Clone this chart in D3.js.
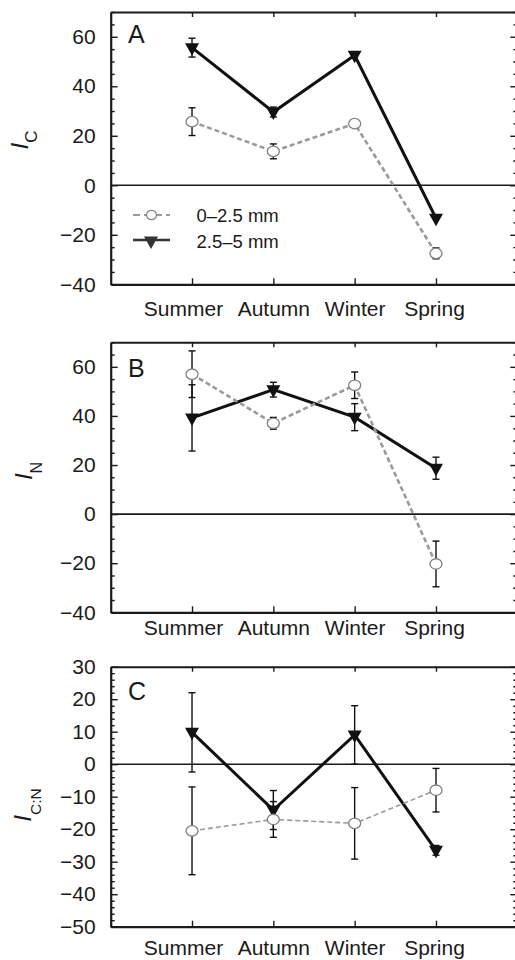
<!DOCTYPE html>
<html>
<head>
<meta charset="utf-8">
<script src="https://cdn.jsdelivr.net/npm/d3@7"></script>
<style>
  html, body { margin: 0; padding: 0; background: #fff; }
  svg { display: block; font-family: "Liberation Sans", Arial, Helvetica, sans-serif; }
</style>
</head>
<body>
<svg id="chart" width="515" height="960"></svg>
<script>
// Seasons on the x axis
const seasons = ["Summer", "Autumn", "Winter", "Spring"];

// Series names (soil aggregate size classes)
const seriesNames = ["0–2.5 mm", "2.5–5 mm"];

// Panel A: I_C
const icFine = [25.7, 13.7, 24.9, -27.5];
const icFineErr = [5.6, 3.0, 0, 2.2];
const icCoarse = [55.6, 29.6, 52.5, -13.3];
const icCoarseErr = [3.8, 2.0, 0, 0];

// Panel B: I_N
const inFine = [57.0, 37.0, 52.5, -20.3];
const inFineErr = [9.5, 2.4, 5.4, 9.3];
const inCoarse = [39.2, 50.7, 39.5, 18.7];
const inCoarseErr = [13.5, 3.0, 5.5, 4.5];

// Panel C: I_C:N
const icnFine = [-20.5, -17.0, -18.2, -8.0];
const icnFineErr = [13.5, 5.5, 11.0, 6.7];
const icnCoarse = [9.8, -14.1, 9.0, -26.5];
const icnCoarseErr = [12.2, 6.0, 9.0, 1.5];

// Axis ticks
const ticksAB = [-40, -20, 0, 20, 40, 60];
const ticksC = [-50, -40, -30, -20, -10, 0, 10, 20, 30];

const svg = d3.select("#chart");
const minus = v => (v < 0 ? "\u2212" + Math.abs(v) : String(v));

const xLeft = 110.7, xRight = 517.3;
const x = d3.scaleLinear().domain([0, 5]).range([xLeft, xRight]);

const panels = [
  { letter: "A", sub: "C", top: 12, bottom: 284.3, domain: [-40, 70], ticks: ticksAB, minorStep: 5,
    fine: icFine, fineErr: icFineErr, coarse: icCoarse, coarseErr: icCoarseErr,
    labelX: 28, labelY: 140, subShift: 9, subSize: 17, xPad: 17, letterY: 43.3,
    fineWidth: 2.6, legend: true },
  { letter: "B", sub: "N", top: 342.3, bottom: 612.3, domain: [-40, 70], ticks: ticksAB, minorStep: 5,
    fine: inFine, fineErr: inFineErr, coarse: inCoarse, coarseErr: inCoarseErr,
    labelX: 31.5, labelY: 471, subShift: 10, subSize: 16, xPad: 8, letterY: 376.7,
    fineWidth: 2.6, legend: false },
  { letter: "C", sub: "C:N", top: 666.7, bottom: 926.7, domain: [-50, 30], ticks: ticksC, minorStep: 2,
    fine: icnFine, fineErr: icnFineErr, coarse: icnCoarse, coarseErr: icnCoarseErr,
    labelX: 30.5, labelY: 805, subShift: 10, subSize: 15.5, xPad: 13.5, letterY: 700,
    fineWidth: 1.6, legend: false }
];

const triPath = "M-7,-4.5L7,-4.5L0,8Z";

function styleAxis(g, width) {
  g.selectAll(".domain").attr("stroke", "#1a1a1a").attr("stroke-width", width);
  g.selectAll(".tick line").attr("stroke", "#1a1a1a").attr("stroke-width", 1.4);
  g.selectAll(".tick text").attr("fill", "#1a1a1a").attr("font-size", 21)
    .attr("font-family", "'Liberation Sans', Arial, sans-serif");
}

panels.forEach(p => {
  const y = d3.scaleLinear().domain(p.domain).range([p.bottom, p.top]);
  const g = svg.append("g");
  const minor = d3.range(p.domain[0], p.domain[1] + 0.001, p.minorStep)
    .filter(v => !p.ticks.includes(v));
  const cats = [1, 2, 3, 4];

  // minor ticks, left and right
  g.append("g").attr("transform", `translate(${xLeft},0)`)
    .call(d3.axisLeft(y).tickValues(minor).tickSize(-4).tickFormat(""))
    .call(a => { a.select(".domain").remove(); styleAxis(a, 2); });
  g.append("g").attr("transform", `translate(${xRight},0)`)
    .call(d3.axisRight(y).tickValues(minor).tickSize(-4).tickFormat(""))
    .call(a => { a.select(".domain").remove(); styleAxis(a, 2); });

  // major ticks
  g.append("g").attr("transform", `translate(${xLeft},0)`)
    .call(d3.axisLeft(y).tickValues(p.ticks).tickSizeInner(-7).tickSizeOuter(0)
      .tickPadding(15).tickFormat(minus))
    .call(a => styleAxis(a, 2.2));
  g.append("g").attr("transform", `translate(${xRight},0)`)
    .call(d3.axisRight(y).tickValues(p.ticks).tickSizeInner(-7).tickSizeOuter(0).tickFormat(""))
    .call(a => styleAxis(a, 2));
  g.append("g").attr("transform", `translate(0,${p.top})`)
    .call(d3.axisTop(x).tickValues(cats).tickSizeInner(-5).tickSizeOuter(0).tickFormat(""))
    .call(a => styleAxis(a, 2));
  g.append("g").attr("transform", `translate(0,${p.bottom})`)
    .call(d3.axisBottom(x).tickValues(cats).tickSizeInner(-6).tickSizeOuter(0)
      .tickPadding(p.xPad).tickFormat(d => seasons[d - 1]))
    .call(a => {
      styleAxis(a, 2.2);
      // the first season label sits a little left of its tick
      a.selectAll(".tick text").attr("dx", d => (d === 1 ? -9 : d === 4 ? -2 : 0));
    });

  // zero reference line
  g.append("line")
    .attr("x1", xLeft).attr("x2", xRight)
    .attr("y1", y(0)).attr("y2", y(0))
    .attr("stroke", "#1a1a1a").attr("stroke-width", 1.6);

  // panel letter
  g.append("text").attr("x", 128).attr("y", p.letterY)
    .attr("font-size", 25).attr("fill", "#1a1a1a").text(p.letter);

  // y-axis label: italic I with subscript
  const lab = g.append("text")
    .attr("transform", `translate(${p.labelX},${p.labelY}) rotate(-90)`)
    .attr("text-anchor", "middle").attr("fill", "#1a1a1a");
  lab.append("tspan").attr("font-size", 24).attr("font-style", "italic").text("I");
  lab.append("tspan").attr("font-size", p.subSize).attr("dy", p.subShift).text(p.sub);

  const line = d3.line().x((d, i) => x(i + 1)).y(d => y(d));

  // coarse series: solid black
  g.append("path").datum(p.coarse).attr("d", line)
    .attr("fill", "none").attr("stroke", "#111").attr("stroke-width", 3)
    .attr("stroke-linejoin", "miter");

  // fine series: grey dashed
  g.append("path").datum(p.fine).attr("d", line)
    .attr("fill", "none").attr("stroke", "#9a9a9a").attr("stroke-width", p.fineWidth)
    .attr("stroke-dasharray", "5,3");

  // error bars for both series
  const errs = [];
  p.fine.forEach((v, i) => { if (p.fineErr[i] > 0) errs.push({ i, v, e: p.fineErr[i] }); });
  p.coarse.forEach((v, i) => { if (p.coarseErr[i] > 0) errs.push({ i, v, e: p.coarseErr[i] }); });
  const eg = g.append("g").attr("stroke", "#111").attr("stroke-width", 1.4);
  errs.forEach(d => {
    const cx = x(d.i + 1);
    eg.append("line").attr("x1", cx).attr("x2", cx).attr("y1", y(d.v - d.e)).attr("y2", y(d.v + d.e));
    eg.append("line").attr("x1", cx - 3.5).attr("x2", cx + 3.5).attr("y1", y(d.v - d.e)).attr("y2", y(d.v - d.e));
    eg.append("line").attr("x1", cx - 3.5).attr("x2", cx + 3.5).attr("y1", y(d.v + d.e)).attr("y2", y(d.v + d.e));
  });

  // markers
  g.selectAll(".tri").data(p.coarse).enter().append("path")
    .attr("d", triPath)
    .attr("transform", (d, i) => `translate(${x(i + 1)},${y(d)})`)
    .attr("fill", "#111");
  g.selectAll(".circ").data(p.fine).enter().append("ellipse")
    .attr("cx", (d, i) => x(i + 1)).attr("cy", d => y(d))
    .attr("rx", 6).attr("ry", 5.2)
    .attr("fill", "#fff").attr("stroke", "#808080").attr("stroke-width", 1.3);

  // legend
  if (p.legend) {
    const lg = g.append("g");
    lg.append("line").attr("x1", 133).attr("x2", 170).attr("y1", 215).attr("y2", 215)
      .attr("stroke", "#9a9a9a").attr("stroke-width", 2).attr("stroke-dasharray", "7,4");
    lg.append("ellipse").attr("cx", 151.5).attr("cy", 215).attr("rx", 5).attr("ry", 4.6)
      .attr("fill", "#fff").attr("stroke", "#808080").attr("stroke-width", 1.2);
    lg.append("text").attr("x", 196.5).attr("y", 222).attr("font-size", 18.5)
      .attr("fill", "#1a1a1a").text(seriesNames[0]);
    lg.append("line").attr("x1", 133).attr("x2", 170).attr("y1", 240).attr("y2", 240)
      .attr("stroke", "#333").attr("stroke-width", 2.6);
    lg.append("path").attr("d", triPath).attr("transform", "translate(151,241)").attr("fill", "#333");
    lg.append("text").attr("x", 196.5).attr("y", 248).attr("font-size", 18.5)
      .attr("fill", "#1a1a1a").text(seriesNames[1]);
  }
});
</script>
</body>
</html>
